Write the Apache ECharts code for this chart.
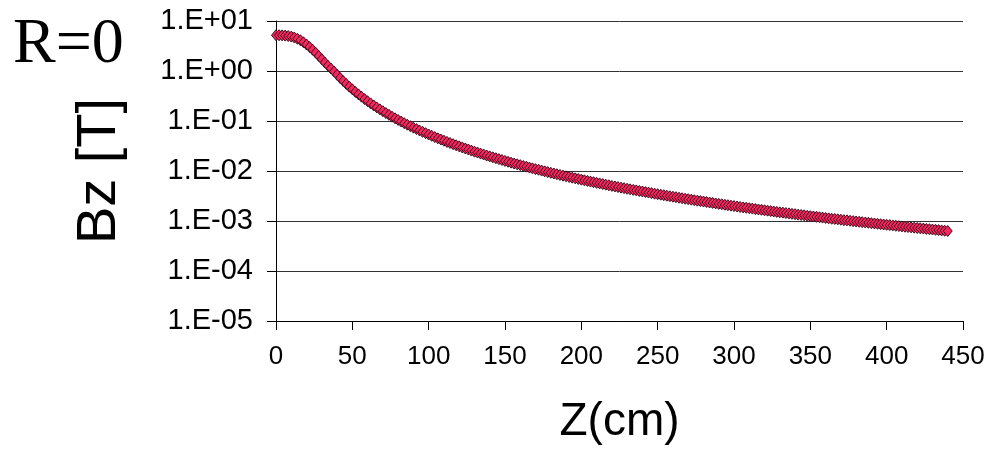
<!DOCTYPE html>
<html>
<head>
<meta charset="utf-8">
<script src="https://cdn.jsdelivr.net/npm/echarts@6/dist/echarts.min.js"></script>
<style>
html,body{margin:0;padding:0;background:#fff;}
#chart{width:994px;height:455px;}
</style>
</head>
<body>
<div id="chart"></div>
<script>
// Z positions (cm)
var zValues = [0,2,4,6,8,10,12,14,16,18,20,22,24,26,28,30,32,34,36,38,40,42,44,46,48,50,52,54,56,58,60,62,64,66,68,70,72,74,76,78,80,82,84,86,88,90,92,94,96,98,100,102,104,106,108,110,112,114,116,118,120,122,124,126,128,130,132,134,136,138,140,142,144,146,148,150,152,154,156,158,160,162,164,166,168,170,172,174,176,178,180,182,184,186,188,190,192,194,196,198,200,202,204,206,208,210,212,214,216,218,220,222,224,226,228,230,232,234,236,238,240,242,244,246,248,250,252,254,256,258,260,262,264,266,268,270,272,274,276,278,280,282,284,286,288,290,292,294,296,298,300,302,304,306,308,310,312,314,316,318,320,322,324,326,328,330,332,334,336,338,340,342,344,346,348,350,352,354,356,358,360,362,364,366,368,370,372,374,376,378,380,382,384,386,388,390,392,394,396,398,400,402,404,406,408,410,412,414,416,418,420,422,424,426,428,430,432,434,436,438,440];
// Bz values (T)
var bzValues = [5.19,5.19,5.16,5.10,5.01,4.88,4.68,4.42,4.12,3.76,3.39,3.02,2.66,2.32,2.00,1.72,1.48,1.28,1.12,0.979,0.839,0.725,0.631,0.552,0.486,0.430,0.382,0.341,0.306,0.275,0.249,0.225,0.205,0.187,0.171,0.157,0.144,0.133,0.122,0.113,0.105,0.0974,0.0906,0.0844,0.0788,0.0737,0.0690,0.0647,0.0607,0.0571,0.0537,0.0506,0.0477,0.0451,0.0426,0.0404,0.0382,0.0363,0.0344,0.0327,0.0311,0.0296,0.0282,0.0269,0.0256,0.0244,0.0234,0.0223,0.0214,0.0204,0.0196,0.0188,0.0180,0.0173,0.0166,0.0159,0.0153,0.0147,0.0141,0.0136,0.0131,0.0126,0.0122,0.0117,0.0113,0.0109,0.0106,0.0102,0.00985,0.00952,0.00921,0.00891,0.00862,0.00835,0.00808,0.00783,0.00759,0.00736,0.00713,0.00692,0.00671,0.00652,0.00633,0.00614,0.00597,0.00580,0.00564,0.00548,0.00533,0.00518,0.00504,0.00491,0.00478,0.00465,0.00453,0.00441,0.00430,0.00419,0.00409,0.00398,0.00389,0.00379,0.00370,0.00361,0.00352,0.00344,0.00336,0.00328,0.00320,0.00313,0.00306,0.00299,0.00292,0.00285,0.00279,0.00273,0.00267,0.00261,0.00255,0.00250,0.00245,0.00240,0.00234,0.00230,0.00225,0.00220,0.00216,0.00211,0.00207,0.00203,0.00199,0.00195,0.00191,0.00187,0.00184,0.00180,0.00177,0.00173,0.00170,0.00167,0.00164,0.00161,0.00158,0.00155,0.00152,0.00149,0.00147,0.00144,0.00142,0.00139,0.00137,0.00134,0.00132,0.00130,0.00127,0.00125,0.00123,0.00121,0.00119,0.00117,0.00115,0.00113,0.00111,0.00110,0.00108,0.00106,0.00104,0.00103,0.00101,0.000994,0.000979,0.000964,0.000949,0.000934,0.000920,0.000905,0.000892,0.000878,0.000865,0.000852,0.000839,0.000827,0.000815,0.000803,0.000791,0.000779,0.000768,0.000757,0.000746,0.000735,0.000725,0.000715,0.000705,0.000695,0.000685,0.000676,0.000666,0.000657,0.000648,0.000639,0.000631];
// Axis texts
var titleText = 'R=0';
var xAxisName = 'Z(cm)';
var yAxisName = 'Bz [T]';
var xTicks = [0,50,100,150,200,250,300,350,400,450];
var yTickLabels = ['1.E-05','1.E-04','1.E-03','1.E-02','1.E-01','1.E+00','1.E+01'];

var points = [];
for (var i = 0; i < zValues.length; i++) points.push([zValues[i], bzValues[i]]);

var chart = echarts.init(document.getElementById('chart'), null, {renderer: 'canvas'});
var font = "'Liberation Sans', Arial, sans-serif";
chart.setOption({
  animation: false,
  backgroundColor: '#ffffff',
  title: {
    text: titleText, left: 8, top: 8,
    textStyle: {fontFamily: "'Liberation Serif', 'Times New Roman', serif", fontSize: 64, fontWeight: 'normal', color: '#000'}
  },
  grid: {left: 276, top: 21, width: 687, height: 300, containLabel: false},
  xAxis: {
    type: 'value', min: xTicks[0], max: xTicks[xTicks.length - 1], interval: 50,
    name: xAxisName, nameLocation: 'middle', nameGap: 78,
    nameTextStyle: {fontFamily: font, fontSize: 46, color: '#000'},
    axisLine: {show: true, onZero: false, lineStyle: {color: '#000', width: 1}},
    axisTick: {show: true, length: 9, lineStyle: {color: '#000'}},
    axisLabel: {fontFamily: font, fontSize: 26, color: '#000', margin: 23},
    splitLine: {show: false}
  },
  yAxis: {
    type: 'log', logBase: 10, min: 1e-5, max: 10, interval: 1,
    name: yAxisName, nameLocation: 'middle', nameGap: 148, nameRotate: 90,
    nameTextStyle: {fontFamily: font, fontSize: 56, color: '#000'},
    axisLine: {show: true, lineStyle: {color: '#000', width: 1}},
    axisTick: {show: true, length: 9, lineStyle: {color: '#000'}},
    axisLabel: {
      fontFamily: font, fontSize: 29, color: '#000', margin: 23,
      formatter: function (v) {
        var e = Math.round(Math.log10(v));
        return yTickLabels[e + 5];
      }
    },
    splitLine: {show: true, lineStyle: {color: '#333', width: 1}}
  },
  series: [{
    type: 'scatter',
    data: points,
    symbol: 'diamond',
    symbolSize: [9, 11],
    itemStyle: {color: '#f2295f', borderColor: '#300010', borderWidth: 0.9, opacity: 1}
  }]
});
</script>
</body>
</html>
